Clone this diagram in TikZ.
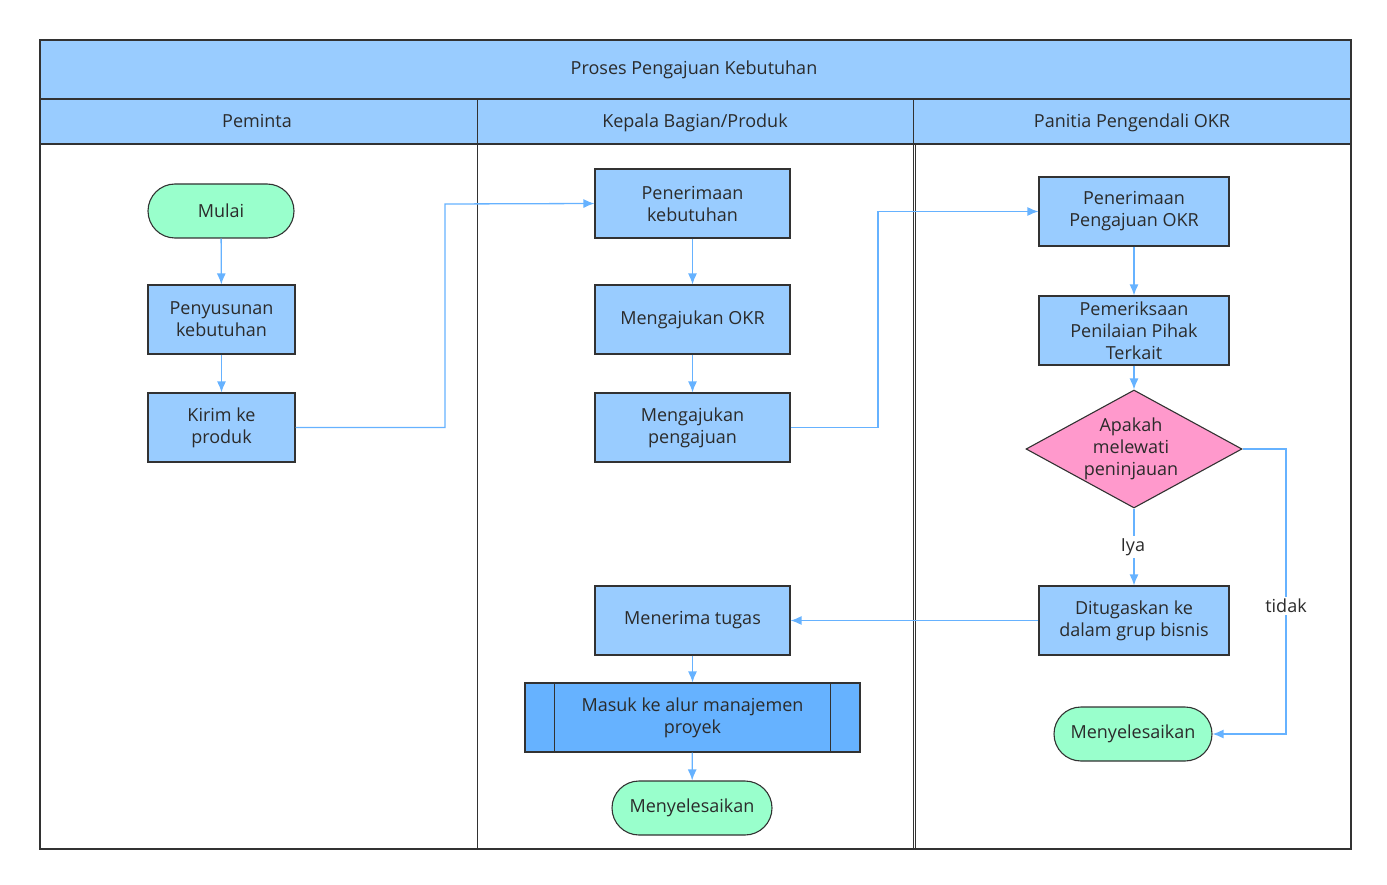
\documentclass[tikz,border=0pt]{standalone}
\usepackage{fontspec}
\setmainfont{Open Sans}
\usetikzlibrary{arrows.meta,shapes.geometric}
\definecolor{hdr}{HTML}{99CCFF}
\definecolor{boxblue}{HTML}{99CCFF}
\definecolor{darkblue}{HTML}{66B2FF}
\definecolor{termgreen}{HTML}{99FFCC}
\definecolor{decpink}{HTML}{FF99CC}
\definecolor{edge}{HTML}{323232}
\definecolor{arrowblue}{HTML}{66B2FF}
\definecolor{txt}{HTML}{2B2B2B}
\tikzset{
  basefont/.style={font=\fontsize{18}{22}\selectfont, text=txt},
  procbox/.style={basefont, draw=edge, line width=1.1pt, fill=boxblue, minimum width=195pt, minimum height=69pt, inner sep=0pt, align=center},
  smallproc/.style={procbox, minimum width=147pt},
  termbox/.style={basefont, draw=edge, line width=1.1pt, fill=termgreen, rounded corners=27pt, minimum height=54pt, inner sep=0pt, align=center},
  subproc/.style={procbox, fill=darkblue, minimum width=335pt},
  decbox/.style={draw=edge, line width=1.1pt, fill=decpink, diamond, minimum width=216pt, minimum height=118pt, inner sep=0pt},
  flow/.style={draw=arrowblue, line width=1.3pt, -{Latex[length=11pt,width=9pt]}},
  lbl/.style={basefont, fill=white, inner sep=2pt},
  frame/.style={draw=edge, line width=1.1pt},
  hdrtext/.style={basefont, text height=13pt, text depth=4pt, inner sep=0pt}
}
\begin{document}
\begin{tikzpicture}[x=1pt,y=-1pt]
\useasboundingbox (0,0) rectangle (1387,885);
% pool frame
\fill[hdr] (40,40) rectangle (1351,144);
\draw[frame] (40,40) rectangle (1351,849);
\draw[frame] (40,99) -- (1351,99);
\draw[frame] (40,144) -- (1351,144);
\draw[frame] (477.5,99) -- (477.5,849);
\draw[frame] (913.5,99) -- (913.5,849);
\draw[draw=edge, line width=0.9pt] (915.7,144) -- (915.7,849);
\node[hdrtext] (title) at (694,70.5) {Proses Pengajuan Kebutuhan};
\node[hdrtext] (lane1) at (257,123.5) {Peminta};
\node[hdrtext] (lane2) at (695,123.5) {Kepala Bagian/Produk};
\node[hdrtext] (lane3) at (1132,123.5) {Panitia Pengendali OKR};

% lane 1
\node[termbox, minimum width=146pt] (mulai) at (221,211) {Mulai};
\node[smallproc] (susun) at (221.5,319.5) {Penyusunan\\kebutuhan};
\node[smallproc] (kirim) at (221.5,427.5) {Kirim ke\\produk};

% lane 2
\node[procbox] (terima) at (692.5,203.5) {Penerimaan\\kebutuhan};
\node[procbox] (okr) at (692.5,319.5) {Mengajukan OKR};
\node[procbox] (aju) at (692.5,427.5) {Mengajukan\\pengajuan};
\node[procbox] (tugas) at (692.5,620.5) {Menerima tugas};
\node[subproc] (masuk) at (692.5,717.5) {Masuk ke alur manajemen\\proyek};
\draw[frame] ([xshift=30pt]masuk.north west) -- ([xshift=30pt]masuk.south west);
\draw[frame] ([xshift=-30pt]masuk.north east) -- ([xshift=-30pt]masuk.south east);
\node[termbox, minimum width=160pt] (selesai1) at (692,808) {Menyelesaikan};

% lane 3
\node[procbox, minimum width=190pt] (terimaokr) at (1134,211.5) {Penerimaan\\Pengajuan OKR};
\node[procbox, minimum width=190pt] (periksa) at (1134,330.5) {Pemeriksaan\\Penilaian Pihak\\Terkait};
\node[decbox] (dec) at (1134,449) {};
\node[basefont, align=center, inner sep=0pt] (dectext) at (1131,449) {Apakah\\melewati\\peninjauan};
\node[procbox, minimum width=190pt] (tugaskan) at (1134,620.5) {Ditugaskan ke\\dalam grup bisnis};
\node[termbox, minimum width=158pt] (selesai2) at (1133,734) {Menyelesaikan};

% connectors
\coordinate (c1) at (445,204);
\coordinate (c2) at (878,211.5);
\coordinate (c3) at (1286,734);
\draw[flow] (mulai) -- (susun);
\draw[flow] (susun) -- (kirim);
\draw[flow] (kirim.east) -| (c1) -- (terima.west);
\draw[flow] (terima) -- (okr);
\draw[flow] (okr) -- (aju);
\draw[flow] (aju.east) -| (c2) -- (terimaokr.west);
\draw[flow] (terimaokr) -- (periksa);
\draw[flow] (periksa) -- (dec.north);
\draw[flow] (dec.south) -- (tugaskan.north);
\node[lbl] (iya) at (1133,547) {Iya};
\draw[flow] (dec.east) -| (c3) -- (selesai2.east);
\node[lbl] (tidak) at (1286,606) {tidak};
\draw[flow] (tugaskan.west) -- (tugas.east);
\draw[flow] (tugas) -- (masuk);
\draw[flow] (masuk) -- (selesai1);
\end{tikzpicture}
\end{document}
